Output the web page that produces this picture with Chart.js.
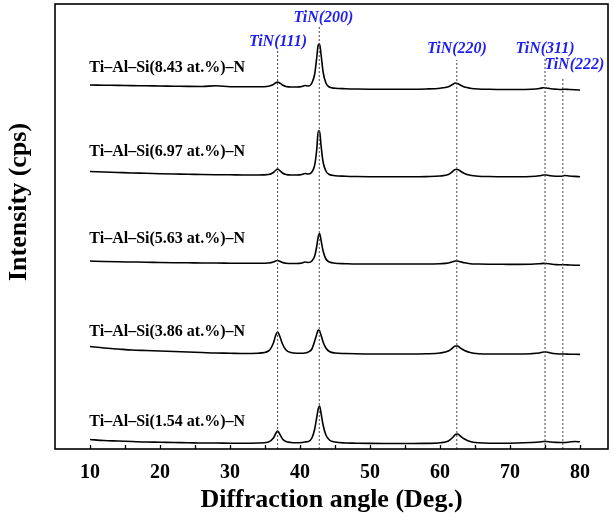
<!DOCTYPE html>
<html><head><meta charset="utf-8">
<script src="https://cdn.jsdelivr.net/npm/chart.js@4.4.1/dist/chart.umd.min.js"></script>
<style>html,body{margin:0;padding:0;background:#fff;}#wrap{width:613px;height:522px;}</style>
</head><body><div id="wrap"><canvas id="c" width="613" height="522"></canvas></div>
<script>
// Diffraction angle (2θ, deg.) sample points shared by all patterns
const angles = [10,12,14,16,18,20,22,24,26,28,30,32,34,
  35.5,36.2,36.5,36.8,37.1,37.5,38.0,38.7,39.5,
  40.3,40.7,41.2,41.7,42.1,42.4,42.6,42.8,43.0,43.3,43.7,44.2,
  45,46.5,48,50,52,54,56,58,60,
  61.2,61.8,62.2,62.5,62.9,63.5,64.3,65.5,
  67,69,71,73,
  74.2,74.8,75.2,75.8,76.6,77.3,77.8,78.5,79.3,80];

// Intensity (arbitrary, stacked) for each Si content
const si154 = [9.5,8.5,8,7.5,7,6.8,6.5,6.3,6,6,5.8,5.8,6,
  7,11,15,18,15,10,7.5,6.5,6.2,
  6.5,7,7.5,11,20,32,40,43,36,24,14,9,
  7,6,5.8,5.6,5.5,5.5,5.5,5.6,6.2,
  8,11.5,14.5,15,13,10,7.5,6.2,
  5.8,5.8,6,6.5,
  7,7.5,7.5,7,6.6,6.5,6.5,7,7.5,7.2];
const si386 = [102.5,101,100,99,98.5,98,97.5,97,96.5,96,95.8,95.5,95.8,
  98,106,113,117,113,105,99,96.5,95.8,
  95.8,96,97,100,108,115,119,118,114,107,101,97.5,
  96,95.5,95.2,95,95,95,95,95.2,96,
  98,101,103,103,101,98.5,96.5,95.3,
  95,95,95,95.3,
  96,97,97,96,95.2,95,95,94.8,94.7,94.6];
const si563 = [188,187.5,187.2,187,186.8,186.5,186.3,186.2,186,186,185.8,185.7,185.7,
  186,187,188,188.5,187.8,186.5,185.8,185.5,185.5,
  186,187,186.5,188,193,203,212,215.5,209,198,190,187,
  185.8,185.3,185,185,185,185,185,185,185.3,
  186,187.3,188,188,187.3,186.2,185.3,185,
  184.8,184.7,184.6,184.7,
  185.2,185.6,185.5,185,184.4,184.2,184.2,184,183.8,183.7];
const si697 = [277.5,277,276.5,276,275.7,275.3,275,274.8,274.5,274.3,274.2,274,274,
  274.5,276.5,278.5,280,278.5,276,274.5,274,274,
  274.5,275.5,275,277,284,300,318,318,304,287,278,274.5,
  273.3,272.8,272.5,272.3,272.2,272.2,272.2,272.4,273,
  274.5,277.5,279.5,279.5,278,275.5,273.8,272.8,
  272.5,272.3,272.3,272.5,
  273.2,274,274,273.2,272.8,272.7,273.5,273,272.6,272.3];
const si843 = [364,363.8,363.6,363.4,363.2,363,362.8,362.6,362.5,363.2,362.3,362.2,362.2,
  362.8,364.5,366,367,366,364,362.5,362,362,
  362.5,363.5,363,366,375,392,404,405,395,377,366,362,
  360.8,360.3,360,359.8,359.7,359.7,359.7,360,360.8,
  362.3,364.5,366,365.5,364,362,360.8,360,
  359.7,359.5,359.5,359.8,
  360.5,361.3,361,360.3,359.8,359.5,359.8,359.5,359.2,359];

const sampleNames = ['Ti–Al–Si(1.54 at.%)–N','Ti–Al–Si(3.86 at.%)–N','Ti–Al–Si(5.63 at.%)–N','Ti–Al–Si(6.97 at.%)–N','Ti–Al–Si(8.43 at.%)–N'];
const peakNames = ['TiN(111)','TiN(200)','TiN(220)','TiN(311)','TiN(222)'];
const peakAngles = [36.8, 42.75, 62.4, 75.0, 77.55];
const xTickLabels = [10,20,30,40,50,60,70,80];
const xTickMarks = [10,15,20,25,30,35,40,45,50,55,60,65,70,75,80];

const seriesList = [si154, si386, si563, si697, si843];

// layout helpers (positions in axis units, not data)
const sampleLabelY = [27, 117, 210, 297, 381.5];
const peakLabelPos = [[36.86,407],[43.36,431.5],[62.43,400],[75.0,400],[79.2,384.5]];
const peakLineTop = [399, 422, 389, 391, 371];

const SERIF = '"Liberation Serif","Times New Roman",serif';

const datasets = [];
peakAngles.forEach((a,i)=>{
  datasets.push({
    data:[{x:a,y:0},{x:a,y:peakLineTop[i]}],
    borderColor:'#444', borderWidth:1, borderDash:[2,2], pointRadius:0, fill:false
  });
});
seriesList.forEach((s)=>{
  datasets.push({
    data: angles.map((a,j)=>({x:a,y:s[j]})),
    borderColor:'#000', borderWidth:1.6, pointRadius:0, fill:false,
    cubicInterpolationMode:'monotone'
  });
});

const decor = {
  id:'decor',
  afterDraw(chart){
    const {ctx, chartArea:a} = chart;
    const x = chart.scales.x, y = chart.scales.y;
    ctx.save();
    ctx.strokeStyle='#000'; ctx.lineWidth=1.6;
    ctx.strokeRect(a.left, a.top, a.right-a.left, a.bottom-a.top);
    ctx.lineWidth=1.3;
    xTickMarks.forEach(v=>{
      const px = Math.round(x.getPixelForValue(v))+0.5;
      ctx.beginPath(); ctx.moveTo(px,a.bottom); ctx.lineTo(px,a.bottom-4); ctx.stroke();
    });
    ctx.fillStyle='#000';
    ctx.font='bold 16px '+SERIF; ctx.textAlign='left'; ctx.textBaseline='middle';
    sampleNames.forEach((t,i)=>ctx.fillText(t, x.getPixelForValue(9.9), y.getPixelForValue(sampleLabelY[i])));
    ctx.fillStyle='#1f1ff0';
    ctx.font='italic bold 16px '+SERIF; ctx.textAlign='center';
    peakNames.forEach((t,i)=>ctx.fillText(t, x.getPixelForValue(peakLabelPos[i][0]), y.getPixelForValue(peakLabelPos[i][1])));
    ctx.fillStyle='#000';
    ctx.font='bold 26px '+SERIF; ctx.textAlign='center'; ctx.textBaseline='middle';
    ctx.fillText('Diffraction angle (Deg.)', (a.left+a.right)/2, 500);
    ctx.save();
    ctx.translate(19, 202); ctx.rotate(-Math.PI/2);
    ctx.fillText('Intensity (cps)', 0, 0);
    ctx.restore();
    ctx.restore();
  }
};

new Chart(document.getElementById('c'), {
  type:'line',
  data:{datasets},
  options:{
    responsive:false, animation:false, devicePixelRatio:1,
    layout:{padding:{left:55,right:5,top:4,bottom:0}},
    plugins:{legend:{display:false}, tooltip:{enabled:false}},
    scales:{
      x:{type:'linear', min:5, max:84,
        grid:{display:false, drawTicks:false}, border:{display:false},
        ticks:{stepSize:5, autoSkip:false, includeBounds:false, maxRotation:0, padding:12,
          color:'#000', font:{family:SERIF, size:20, weight:'bold'},
          callback:(v)=> xTickLabels.includes(v) ? String(v) : ''},
        afterFit:(s)=>{s.height=73;}
      },
      y:{type:'linear', display:false, min:0, max:445}
    }
  },
  plugins:[decor]
});
</script>
</body></html>
